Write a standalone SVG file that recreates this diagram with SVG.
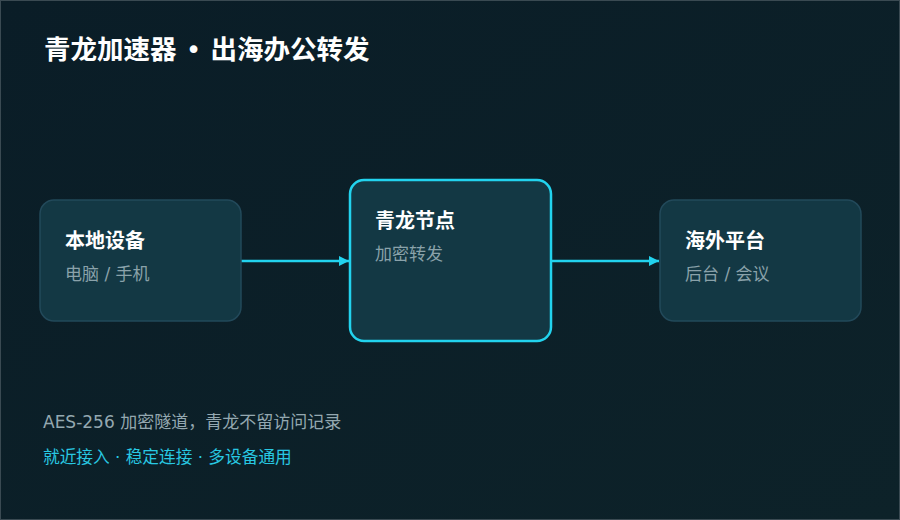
<svg xmlns="http://www.w3.org/2000/svg" width="900" height="520" viewBox="0 0 900 520">
<defs>
<linearGradient id="bg" x1="0" y1="0" x2="1" y2="1">
<stop offset="0" stop-color="#0a1d27"/>
<stop offset="1" stop-color="#0d2229"/>
</linearGradient>
<marker id="arr" markerWidth="12" markerHeight="12" refX="10" refY="5" orient="auto" markerUnits="userSpaceOnUse">
<path d="M0,0 L10,5 L0,10 Z" fill="#22d3ee"/>
</marker>
<style>
text{font-family:"DejaVu Sans","Noto Sans CJK SC",sans-serif}
.title{font-size:26.5px;font-weight:700;fill:#ffffff}
.nt{font-size:20px;font-weight:700;fill:#ffffff}
.ns{font-size:17px;fill:#8aa2aa}
.box{fill:#133844;stroke:#22495a;stroke-width:1.5}
.hl{fill:#133844;stroke:#22d3ee;stroke-width:2.5}
.edge{stroke:#22d3ee;stroke-width:2.5;fill:none}
.note{font-size:17px;fill:#94a8b0}
.tag{font-size:16.7px;fill:#28c8e2}
</style>
</defs>
<rect x="0" y="0" width="900" height="520" fill="url(#bg)"/>
<rect x="0.5" y="0.5" width="899" height="519" fill="none" stroke="#3a4a52" stroke-width="1"/>
<text class="title" x="44" y="59">青龙加速器 <tspan font-weight="400">•</tspan> 出海办公转发</text>
<g id="connectors">
<line class="edge" x1="241" y1="261" x2="349" y2="261" marker-end="url(#arr)"/>
<line class="edge" x1="551" y1="261" x2="659" y2="261" marker-end="url(#arr)"/>
</g>
<g id="local">
<rect class="box" x="40" y="200" width="201" height="121" rx="14"/>
<text class="nt" x="65" y="248">本地设备</text>
<text class="ns" x="65" y="280">电脑 / 手机</text>
</g>
<g id="qinglong">
<rect class="hl" x="350" y="180" width="201" height="161" rx="14"/>
<text class="nt" x="375" y="228">青龙节点</text>
<text class="ns" x="375" y="260">加密转发</text>
</g>
<g id="overseas">
<rect class="box" x="660" y="200" width="201" height="121" rx="14"/>
<text class="nt" x="685" y="248">海外平台</text>
<text class="ns" x="685" y="280">后台 / 会议</text>
</g>
<text class="note" x="43" y="428">AES-256 加密隧道，青龙不留访问记录</text>
<text class="tag" x="43" y="463">就近接入 · 稳定连接 · 多设备通用</text>
</svg>
